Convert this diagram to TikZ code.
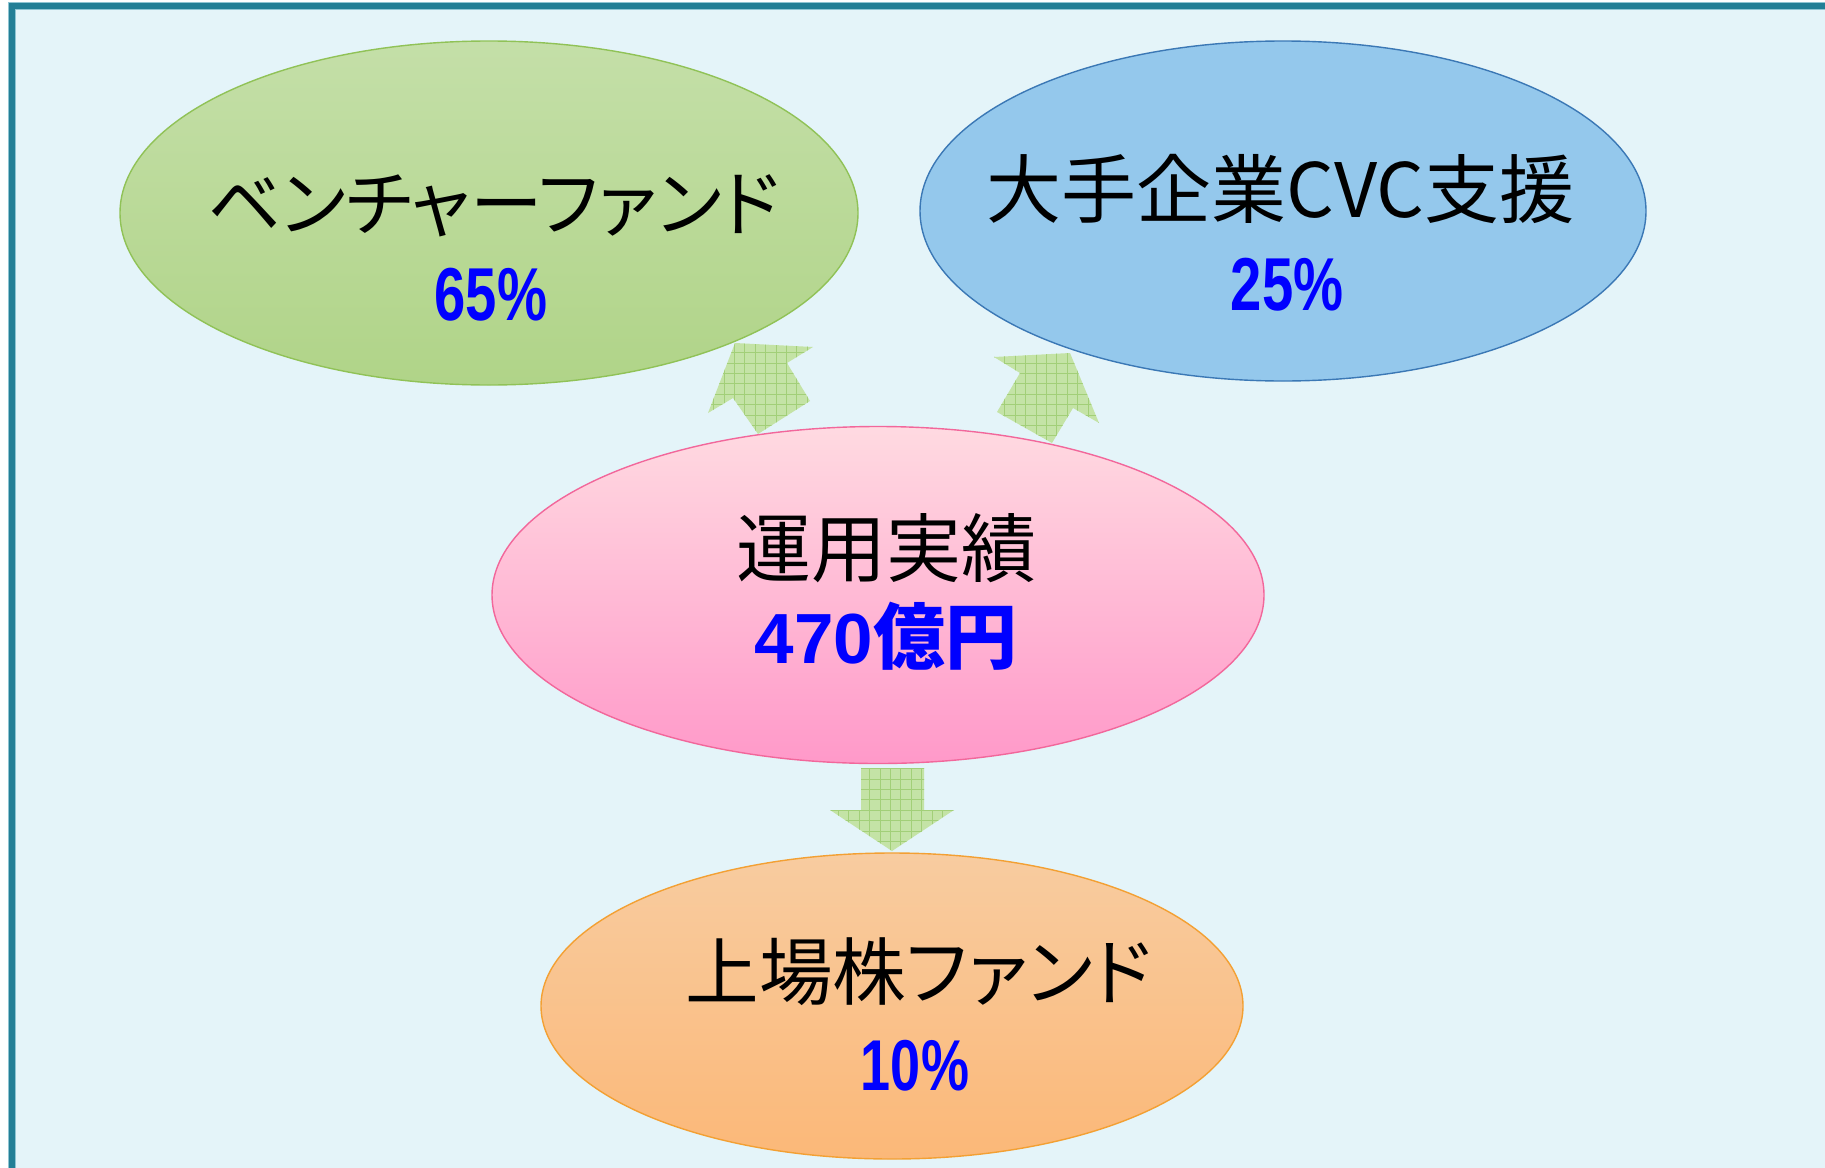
\documentclass[tikz,border=0pt]{standalone}
\usepackage{fontspec}
\usetikzlibrary{shapes.geometric}
\newfontfamily\jp{Noto Sans CJK JP}
\newfontfamily\jpp{Noto Sans CJK JP}[RawFeature=+palt]
\newfontfamily\pct{Liberation Sans}
\definecolor{framec}{HTML}{237F96}
\definecolor{framel}{HTML}{8FC5D3}
\definecolor{bgc}{HTML}{E4F4F9}
\definecolor{gtop}{HTML}{C4DFA8}
\definecolor{gbot}{HTML}{B0D488}
\definecolor{gline}{HTML}{90C257}
\definecolor{bfill}{HTML}{94C8EC}
\definecolor{bline}{HTML}{3B78B5}
\definecolor{ptop}{HTML}{FFDAE1}
\definecolor{pbot}{HTML}{FF99C9}
\definecolor{pline}{HTML}{F2679B}
\definecolor{otop}{HTML}{F8CCA0}
\definecolor{obot}{HTML}{FBB878}
\definecolor{oline}{HTML}{F3A033}
\definecolor{afill}{HTML}{C4E3A6}
\definecolor{agrid}{HTML}{A2CF78}
\definecolor{pctblue}{HTML}{0000FF}
\begin{document}
\begin{tikzpicture}[x=0.5pt,y=-0.5pt,
  ell/.style={ellipse,inner sep=0pt,outer sep=0pt,line width=0.7pt},
  lab/.style={anchor=west,inner sep=0pt,font=\jp\fontsize{37.5pt}{40pt}\selectfont},
  pctlab/.style={anchor=base,inner sep=0pt,text=pctblue},
  gridln/.style={agrid,line width=0.45pt}]
\useasboundingbox (0,0) rectangle (1825,1167);
% frame
\fill[white] (0,0) rectangle (1825,1167);
\fill[bgc] (11.5,6) rectangle (1829,1180);
\draw[framel,line width=4pt] (11.5,6) rectangle (1829,1180);
\draw[framec,line width=3pt] (11.5,6) rectangle (1829,1180);

% ellipses
\node[ell,draw=gline,top color=gtop,bottom color=gbot,minimum width=369pt,minimum height=172pt] (venture) at (489,213) {};
\node[ell,draw=bline,fill=bfill,minimum width=363pt,minimum height=170pt] (cvc) at (1283,211) {};
\node[ell,draw=pline,top color=ptop,bottom color=pbot,minimum width=386pt,minimum height=168.5pt] (perf) at (878,595) {};
\node[ell,draw=oline,top color=otop,bottom color=obot,minimum width=351pt,minimum height=153pt] (listed) at (892,1006) {};

% block arrows
\coordinate (la1) at (735,343); \coordinate (la2) at (813,347); \coordinate (la3) at (787,363);
\coordinate (la4) at (810,401); \coordinate (la5) at (758,434); \coordinate (la6) at (733,398);
\coordinate (la7) at (708,413);
\coordinate (ra1) at (1070,353); \coordinate (ra2) at (1099,423); \coordinate (ra3) at (1073,408);
\coordinate (ra4) at (1052,443); \coordinate (ra5) at (997,412); \coordinate (ra6) at (1020,373);
\coordinate (ra7) at (994,357);
\coordinate (da1) at (861,768); \coordinate (da2) at (924,768); \coordinate (da3) at (924,810);
\coordinate (da4) at (954,810); \coordinate (da5) at (892,851); \coordinate (da6) at (830,810);
\coordinate (da7) at (861,810);
\def\arrowpaths{(la1)--(la2)--(la3)--(la4)--(la5)--(la6)--(la7)--cycle
  (ra1)--(ra2)--(ra3)--(ra4)--(ra5)--(ra6)--(ra7)--cycle
  (da1)--(da2)--(da3)--(da4)--(da5)--(da6)--(da7)--cycle}
\fill[afill] \arrowpaths;
\begin{scope}
  \clip \arrowpaths;
  \foreach \gx in {0,...,45} \draw[gridln] ({682.4+\gx*10.4},330) -- ({682.4+\gx*10.4},870);
  \foreach \gy in {0,...,52} \draw[gridln] (680,{331.8+\gy*10.4}) -- (1120,{331.8+\gy*10.4});
\end{scope}

% labels
\node[lab,font=\jpp\fontsize{36.3pt}{40pt}\selectfont] (t1) at (207,206) {ベンチャーファンド};
\node[lab] (t2) at (986,189) {大手企業CVC支援};
\node[lab] (t3) at (736,548) {運用実績};
\node[lab,font=\jp\fontsize{36.8pt}{40pt}\selectfont] (t4) at (685,972) {上場株{\jpp ファンド}};

\node[pctlab] (p1) at (491,320) {\scalebox{0.75}[1]{\pct\bfseries\fontsize{37.5pt}{40pt}\selectfont 65\%}};
\node[pctlab] (p2) at (1287,310) {\scalebox{0.75}[1]{\pct\bfseries\fontsize{37.5pt}{40pt}\selectfont 25\%}};
\node[pctlab] (p3) at (886,663) {{\pct\bfseries\fontsize{35.5pt}{40pt}\selectfont 470}{\jp\bfseries\fontsize{36pt}{40pt}\selectfont 億円}};
\node[pctlab] (p4) at (915,1090) {\scalebox{0.75}[1]{\pct\bfseries\fontsize{36pt}{40pt}\selectfont 10\%}};
\end{tikzpicture}
\end{document}
